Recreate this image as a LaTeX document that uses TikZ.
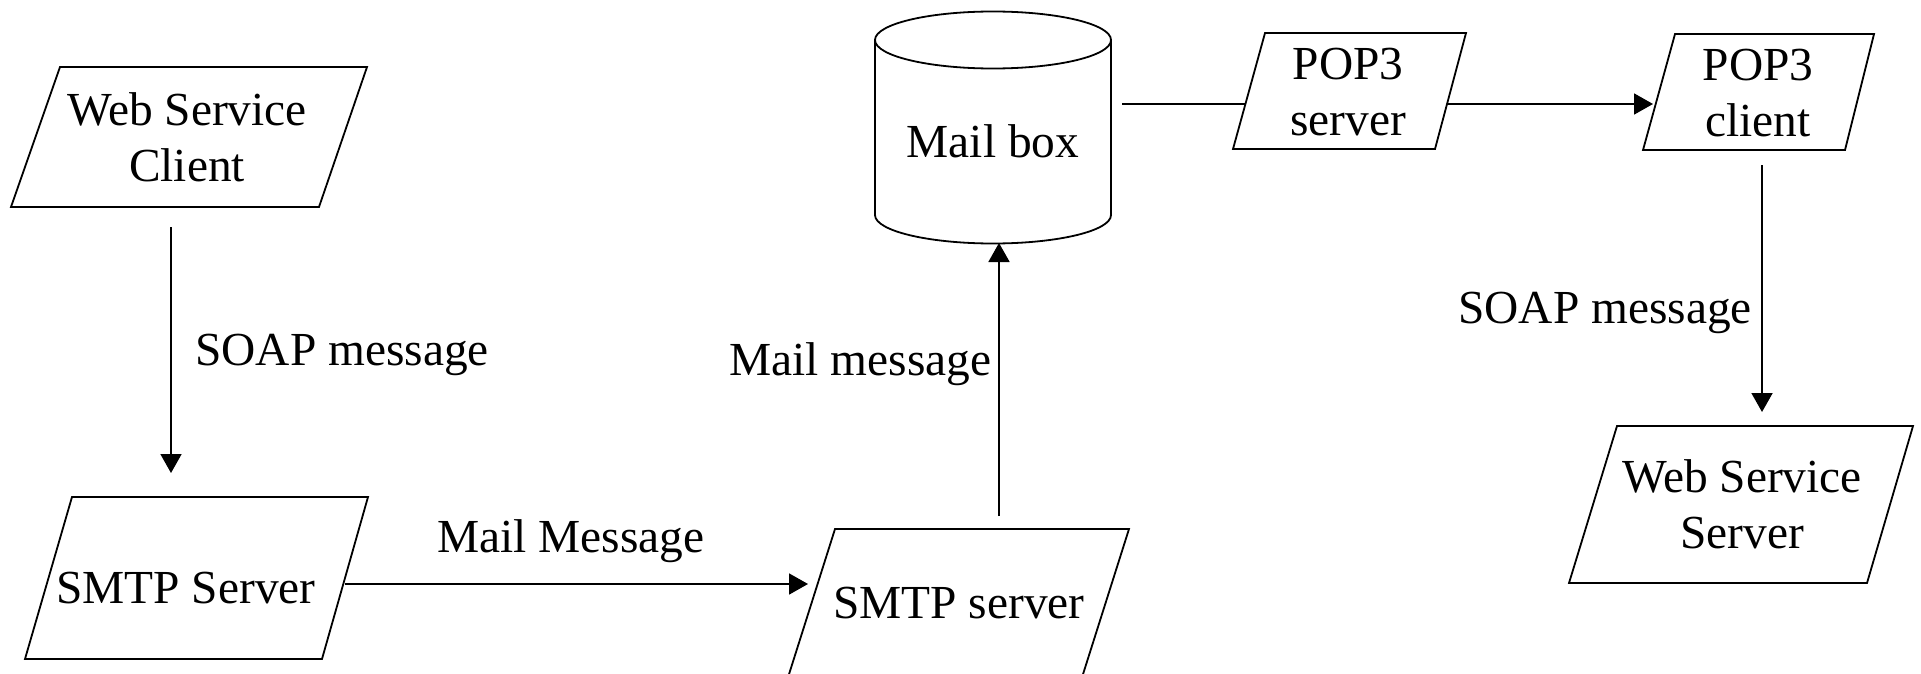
\documentclass[tikz,border=0pt]{standalone}
\usepackage{fontspec}
\setmainfont{Liberation Serif}
\usetikzlibrary{arrows.meta}
\begin{document}
\begin{tikzpicture}[x=0.5pt,y=-0.5pt,
  shapeline/.style={draw=black, line width=0.9pt, line join=miter},
  lbl/.style={inner sep=0pt, font=\fontsize{23.7}{28}\selectfont},
  boxtext/.style={inner sep=0pt, align=center, font=\fontsize{23.7}{28}\selectfont},
  conn/.style={line width=0.9pt},
  arr/.style={conn, -{Triangle[length=9.5pt,width=10.5pt]}}]
\clip (0,0) rectangle (1921,674);
\fill[white] (0,0) rectangle (1921,674);

% shapes
\draw[shapeline] (11,207) -- (319,207) -- (367,67) -- (60,67) -- cycle;
\draw[shapeline] (25,659) -- (322,659) -- (368,497) -- (72,497) -- cycle;
\draw[shapeline] (784,690) -- (1078,690) -- (1129,529) -- (835,529) -- cycle;
\draw[shapeline] (1233,149) -- (1435,149) -- (1466,33) -- (1265,33) -- cycle;
\draw[shapeline] (1643,150) -- (1845,150) -- (1874,34) -- (1675,34) -- cycle;
\draw[shapeline] (1569,583) -- (1867,583) -- (1913,426) -- (1617,426) -- cycle;
\draw[shapeline] (875,40) -- (875,215) arc[start angle=180,end angle=360,x radius=59pt,y radius=14.25pt] -- (1111,40);
\draw[shapeline] (993,40) ellipse [x radius=59pt, y radius=14.25pt];

% node texts
\node[boxtext] (wsc) at (187,136.8) {Web Service\\Client};
\node[boxtext, anchor=base] (smtpA) at (186,603) {SMTP Server};
\node[boxtext, anchor=base] (smtpB) at (959,618) {SMTP server};
\node[boxtext, anchor=base] (mbox) at (993,157) {Mail box};
\node[boxtext] (pops) at (1348,92) {POP3\\server};
\node[boxtext] (popc) at (1758,93) {POP3\\client};
\node[boxtext] (wss) at (1742,504) {Web Service\\Server};

% labels
\node[lbl, anchor=base west] (l1) at (195,365) {SOAP message};
\node[lbl, anchor=base west] (l2) at (437,552) {Mail Message};
\node[lbl, anchor=base west] (l3) at (729,375) {Mail message};
\node[lbl, anchor=base west] (l4) at (1458,323) {SOAP message};

% connector ends
\coordinate (wsc-o) at (171,227);
\coordinate (smtpA-i) at (171,473);
\coordinate (smtpA-o) at (345,584);
\coordinate (smtpB-i) at (808,584);
\coordinate (smtpB-o) at (999,516);
\coordinate (mbox-i) at (999,243);
\coordinate (mbox-o) at (1122,104);
\coordinate (pops-i) at (1245,104);
\coordinate (pops-o) at (1448,104);
\coordinate (popc-i) at (1653,104);
\coordinate (popc-o) at (1762,165);
\coordinate (wss-i) at (1762,412);

% connectors
\draw[arr] (wsc-o) -- (smtpA-i);
\draw[arr] (smtpA-o) -- (smtpB-i);
\draw[arr] (smtpB-o) -- (mbox-i);
\draw[conn] (mbox-o) -- (pops-i);
\draw[arr] (pops-o) -- (popc-i);
\draw[arr] (popc-o) -- (wss-i);
\end{tikzpicture}
\end{document}
